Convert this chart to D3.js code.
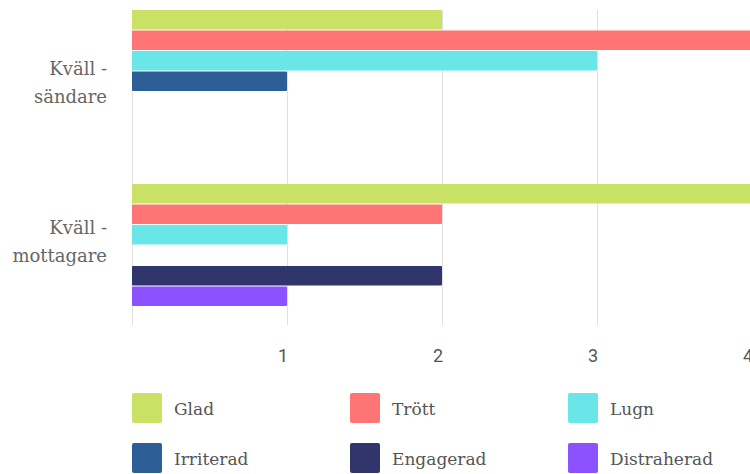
<!DOCTYPE html>
<html>
  <body style="margin:0">
    <style>
      svg { display: block; background: #fff; }
      .cat { font-family: "DejaVu Serif", serif; font-size: 18px; fill: #666; }
      .tick-label { font-family: Roboto, "Noto Sans", sans-serif; font-size: 18px; fill: #555; }
      .leg { font-family: "DejaVu Serif", serif; font-size: 17px; fill: #555; }
    </style>
    <script src="https://d3js.org/d3.v7.min.js"></script>
    <script type="text/javascript">
      const width = 750;
      const height = 474;

      const categories = ['Kväll - sändare', 'Kväll - mottagare'];
      const seriesNames = ['Glad', 'Trött', 'Lugn', 'Irriterad', 'Engagerad', 'Distraherad'];
      const colors = ['#c9e265', '#ff7575', '#6ae5e8', '#2d5f96', '#30356b', '#8c52ff'];
      const glad = [2, 4];
      const trott = [4, 2];
      const lugn = [3, 1];
      const irriterad = [1, 0];
      const engagerad = [0, 2];
      const distraherad = [0, 1];
      const tickValues = [1, 2, 3, 4];

      const values = [glad, trott, lugn, irriterad, engagerad, distraherad];
      const rows = [];
      categories.forEach((c, ci) => {
        seriesNames.forEach((s, si) => {
          rows.push({ cat: c, series: s, value: values[si][ci], color: colors[si] });
        });
      });

      const svg = d3.select('body')
        .append('svg')
        .attr('width', width)
        .attr('height', height);

      const x = d3.scaleLinear().domain([0, 4]).range([132, 752]);

      const y0 = d3.scaleBand()
        .domain(categories)
        .range([10, 306])
        .paddingInner(0.3)
        .paddingOuter(0);

      const y1 = d3.scaleBand()
        .domain(seriesNames)
        .range([0, y0.bandwidth()])
        .paddingInner(0.05);

      // label anchor positions (labels sit a bit off the group centres)
      const labelY = d3.scalePoint().domain(categories).range([75, 234]);

      // grid lines
      svg.append('g')
        .selectAll('line')
        .data([0].concat(tickValues))
        .enter()
        .append('line')
        .attr('x1', (d) => x(d) + 0.5)
        .attr('x2', (d) => x(d) + 0.5)
        .attr('y1', 10)
        .attr('y2', 325)
        .attr('stroke', '#e0e0e0')
        .attr('stroke-width', 1);

      // bars
      svg.append('g')
        .selectAll('rect')
        .data(rows.filter((d) => d.value > 0))
        .enter()
        .append('rect')
        .attr('x', x(0))
        .attr('y', (d) => y0(d.cat) + y1(d.series))
        .attr('width', (d) => x(d.value) - x(0))
        .attr('height', y1.bandwidth())
        .attr('rx', 1)
        .attr('fill', (d) => d.color);

      // category labels
      const catLabels = svg.append('g')
        .selectAll('text')
        .data(categories)
        .enter()
        .append('text')
        .attr('class', 'cat')
        .attr('text-anchor', 'end')
        .attr('x', 107)
        .attr('y', (d) => labelY(d));
      catLabels.append('tspan')
        .attr('x', 107)
        .text((d) => d.split(' - ')[0] + ' -');
      catLabels.append('tspan')
        .attr('x', 107)
        .attr('dy', 28)
        .text((d) => d.split(' - ')[1]);

      // x tick labels
      svg.append('g')
        .selectAll('text')
        .data(tickValues)
        .enter()
        .append('text')
        .attr('class', 'tick-label')
        .attr('text-anchor', 'end')
        .attr('x', (d) => x(d) + 1)
        .attr('y', 362)
        .text((d) => d);

      // legend
      const legX = d3.scalePoint().domain([0, 1, 2]).range([132, 568]);
      const legY = d3.scalePoint().domain([0, 1]).range([393, 443]);
      const leg = svg.append('g')
        .selectAll('g')
        .data(seriesNames)
        .enter()
        .append('g')
        .attr('transform', (d, i) => `translate(${legX(i % 3)},${legY(Math.floor(i / 3))})`);
      leg.append('rect')
        .attr('width', 30)
        .attr('height', 30)
        .attr('rx', 2)
        .attr('fill', (d, i) => colors[i]);
      leg.append('text')
        .attr('class', 'leg')
        .attr('x', 42)
        .attr('y', 22)
        .text((d) => d);
    </script>
  </body>
</html>
